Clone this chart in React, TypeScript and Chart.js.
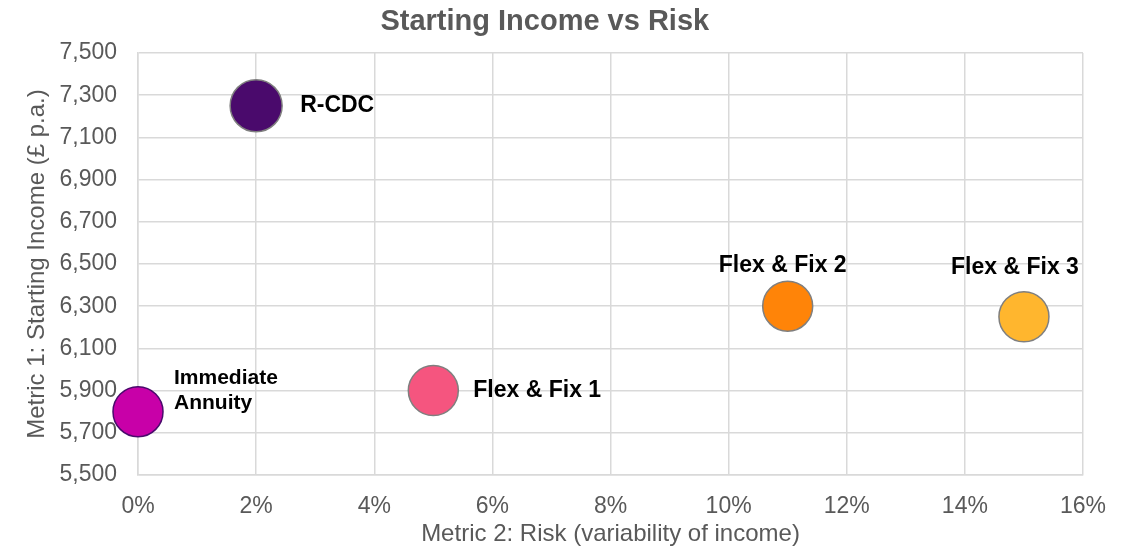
import { useEffect, useRef } from "react";
import { Chart, registerables } from "chart.js";

Chart.register(...registerables);

// Pension options compared on starting income and risk
const schemes = ["Immediate Annuity", "R-CDC", "Flex & Fix 1", "Flex & Fix 2", "Flex & Fix 3"];
const riskPct = [0, 2, 5, 11, 15];
const startingIncome = [5800, 7250, 5900, 6300, 6250];

// Axis settings
const xMin = 0;
const xMax = 16;
const xStep = 2;
const yMin = 5500;
const yMax = 7500;
const yStep = 200;

const chartTitle = "Starting Income vs Risk";
const xAxisTitle = "Metric 2: Risk (variability of income)";
const yAxisTitle = "Metric 1: Starting Income (£ p.a.)";

// Styling per scheme
const fillColors = ["#C800A8", "#4A0A6C", "#F5557F", "#FF8408", "#FFB62E"];
const edgeColors = ["#4A0A6C", "#7F7F7F", "#7F7F7F", "#7F7F7F", "#7F7F7F"];
const bubbleRadius = [25, 26, 25, 25, 25];

// Label placement relative to each bubble centre (lines, dx, dy, align, size)
type LabelStyle = { lines: string[]; dx: number; dy: number; align: CanvasTextAlign; size: number };
const labelStyles: LabelStyle[] = [
  { lines: ["Immediate", "Annuity"], dx: 36, dy: -33, align: "left", size: 21 },
  { lines: ["R-CDC"], dx: 44, dy: 0, align: "left", size: 23 },
  { lines: ["Flex & Fix 1"], dx: 40, dy: 0, align: "left", size: 23 },
  { lines: ["Flex & Fix 2"], dx: -5, dy: -41, align: "center", size: 23 },
  { lines: ["Flex & Fix 3"], dx: -9, dy: -49, align: "center", size: 23 },
];

const FONT = "Arial, 'Liberation Sans', sans-serif";
const GREY_TEXT = "#595959";
const GRID = "#D9D9D9";

const bubbleLabels = {
  id: "bubbleLabels",
  afterDatasetsDraw(chart: Chart) {
    const ctx = chart.ctx;
    ctx.save();
    ctx.fillStyle = "#000000";
    ctx.textBaseline = "middle";
    chart.data.datasets.forEach((_, i) => {
      const pt = chart.getDatasetMeta(i).data[0];
      const st = labelStyles[i];
      if (!pt || !st) return;
      ctx.font = `bold ${st.size}px ${FONT}`;
      ctx.textAlign = st.align;
      const lh = st.size * 1.15;
      st.lines.forEach((line, k) => {
        ctx.fillText(line, pt.x + st.dx, pt.y + st.dy + k * lh);
      });
    });
    ctx.restore();
  },
};

const titlePlugin = {
  id: "chartTitleText",
  afterDraw(chart: Chart) {
    const ctx = chart.ctx;
    ctx.save();
    ctx.font = `bold 29px ${FONT}`;
    ctx.fillStyle = GREY_TEXT;
    ctx.textAlign = "center";
    ctx.textBaseline = "middle";
    ctx.fillText(chartTitle, chart.width * 0.48, 22);
    ctx.restore();
  },
};

export default function App() {
  const canvasRef = useRef<HTMLCanvasElement | null>(null);

  useEffect(() => {
    document.body.style.margin = "0";
    const canvas = canvasRef.current;
    if (!canvas) return;

    const datasets = schemes.map((name, i) => ({
      label: name,
      data: [{ x: riskPct[i], y: startingIncome[i] }],
      backgroundColor: fillColors[i],
      borderColor: edgeColors[i],
      borderWidth: 1.5,
      pointRadius: bubbleRadius[i],
      pointHoverRadius: bubbleRadius[i],
      clip: false as const,
    }));

    const chart = new Chart(canvas, {
      type: "scatter",
      data: { datasets },
      plugins: [bubbleLabels, titlePlugin],
      options: {
        responsive: false,
        animation: false,
        events: [],
        layout: { padding: { top: 53, right: 52, left: 0, bottom: 0 } },
        plugins: {
          legend: { display: false },
          title: { display: false },
          tooltip: { enabled: false },
        },
        scales: {
          x: {
            type: "linear",
            min: xMin,
            max: xMax,
            afterFit: (scale: any) => {
              scale.height = 77;
            },
            grid: { color: GRID, lineWidth: 1.5, drawTicks: false },
            border: { color: GRID, width: 1.5 },
            ticks: {
              stepSize: xStep,
              padding: 18,
              color: GREY_TEXT,
              font: { family: FONT, size: 23 },
              callback: (v: any) => `${Math.round(Number(v))}%`,
            },
            title: {
              display: true,
              text: xAxisTitle,
              color: GREY_TEXT,
              font: { family: FONT, size: 24, weight: "normal" },
              padding: { top: 0, bottom: 3 },
            },
          },
          y: {
            type: "linear",
            min: yMin,
            max: yMax,
            afterFit: (scale: any) => {
              scale.width = 138;
            },
            grid: { color: GRID, lineWidth: 1.5, drawTicks: false },
            border: { color: GRID, width: 1.5 },
            ticks: {
              stepSize: yStep,
              padding: 21,
              color: GREY_TEXT,
              font: { family: FONT, size: 23 },
              callback: (v: any) => Number(v).toLocaleString("en-GB"),
            },
            title: {
              display: true,
              text: yAxisTitle,
              color: GREY_TEXT,
              font: { family: FONT, size: 24, weight: "normal" },
              padding: { top: 23, bottom: 0 },
            },
          },
        },
      },
    });

    return () => chart.destroy();
  }, []);

  return (
    <div style={{ width: 1135, height: 552, background: "#FFFFFF" }}>
      <canvas ref={canvasRef} width={1135} height={552} />
    </div>
  );
}
